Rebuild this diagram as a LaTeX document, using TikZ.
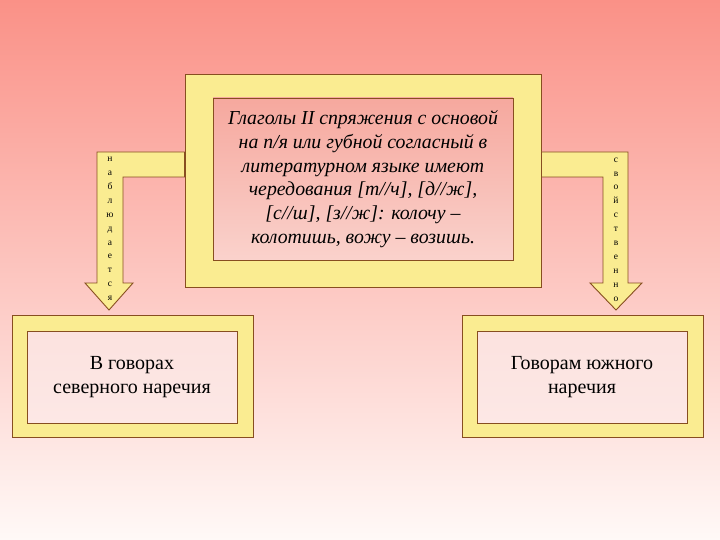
\documentclass[tikz,border=0pt]{standalone}
\usepackage{fontspec}
\setmainfont{Liberation Serif}
\usetikzlibrary{positioning,calc}

\definecolor{salmon}{RGB}{250,145,135}
\definecolor{blush}{RGB}{255,249,247}
\definecolor{butter}{RGB}{250,236,145}
\definecolor{rim}{RGB}{135,78,32}
\definecolor{rosetop}{RGB}{246,168,158}
\definecolor{rosebot}{RGB}{250,210,204}
\definecolor{palerose}{RGB}{252,226,223}

\begin{document}
\begin{tikzpicture}[
    x=1pt, y=-1pt,
    frame/.style={rectangle, draw=rim, line width=0.9pt, fill=butter, inner sep=0pt},
    core/.style={rectangle, draw=rim, line width=0.9pt, inner sep=0pt, top color=rosetop, bottom color=rosebot, align=center},
    leaf/.style={rectangle, draw=rim, line width=0.9pt, inner sep=0pt, top color=palerose, bottom color=palerose!80!white, align=center, font=\fontsize{20}{24}\selectfont},
    blockarrow/.style={draw=rim, fill=butter, line width=0.9pt, line join=miter},
    vtext/.style={align=center, inner sep=0pt, font=\fontsize{9.5}{13.9}\selectfont}
]

\useasboundingbox (0,0) rectangle (720,540);
\shade[top color=salmon, bottom color=blush] (0,0) rectangle (720,540);

% central box
\node (frame) [frame, minimum width=356pt, minimum height=213pt] at (363,180.5) {};
\node (core) [core, minimum width=300pt, minimum height=162pt, font=\itshape\fontsize{19.8}{23.8}\selectfont] at (363,179)
  {Глаголы II спряжения с основой\\на п/я или губной согласный в\\литературном языке имеют\\чередования [т//ч], [д//ж],\\{}[с//ш], [з//ж]: колочу –\\колотишь, вожу – возишь.};

% bottom boxes
\node (nordframe) [frame, minimum width=241pt, minimum height=122pt] at (132.5,376) {};
\node (nord) [leaf, minimum width=210pt, minimum height=92pt] at (132,377) {В говорах\\северного наречия};
\node (sudframe) [frame, minimum width=241pt, minimum height=122pt] at (582.5,376) {};
\node (sud) [leaf, minimum width=210pt, minimum height=92pt] at (582,377) {Говорам южного\\наречия};

% bent arrows
\coordinate (nordtip) at (109,310);
\coordinate (sudtip) at (616,310);
\draw [blockarrow] (frame.west |- 0,152) -- (97,152) -- (97,283) -- (85,283) -- (nordtip)
  -- (133,283) -- (123,283) -- (123,177) -- (frame.west |- 0,177) -- cycle;
\draw [blockarrow] (frame.east |- 0,152) -- (628,152) -- (628,283) -- (642,283) -- (sudtip)
  -- (590,283) -- (603,283) -- (603,177) -- (frame.east |- 0,177) -- cycle;

\node (nordword) [vtext] at (110,229) {н\\а\\б\\л\\ю\\д\\а\\е\\т\\с\\я};
\node (sudword) [vtext] at (616,229.5) {с\\в\\о\\й\\с\\т\\в\\е\\н\\н\\о};

\end{tikzpicture}
\end{document}
